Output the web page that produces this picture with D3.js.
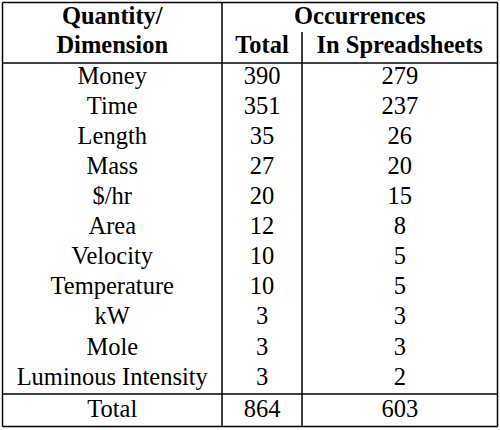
<!DOCTYPE html><html><head><script src="https://cdn.jsdelivr.net/npm/d3@7"></script>
<style>body{margin:0;background:#fff}</style></head><body><svg id="c" width="500" height="430"></svg>
<script>
const quantities=["Money","Time","Length","Mass","$/hr","Area","Velocity","Temperature","kW","Mole","Luminous Intensity"];
const totals=[390,351,35,27,20,12,10,10,3,3,3];
const inSpreadsheets=[279,237,26,20,15,8,5,5,3,3,2];
const totalLabel="Total", totalSum=864, spreadSum=603;
const svg=d3.select("#c");
const L=2.5,R=497.5,T=2.5,B=426.5,c1=222,c2=302,hLine=63,tLine=394;
const y=d3.scaleLinear().domain([0,10]).range([78,379]);
const font="Liberation Serif, Times New Roman, serif";
const line=(x1,y1,x2,y2)=>svg.append("line").attr("x1",x1).attr("y1",y1).attr("x2",x2).attr("y2",y2).attr("stroke","#000").attr("stroke-width",1.5);
line(L,T,R,T);line(L,B,R,B);line(L,T,L,B);line(R,T,R,B);
line(c1,T,c1,B);line(c2,32,c2,B);line(L,hLine,R,hLine);line(L,tLine,R,tLine);
const txt=(x,yy,s,bold)=>svg.append("text").attr("x",x).attr("y",yy).attr("text-anchor","middle").attr("dominant-baseline","middle")
 .attr("font-family",font).attr("font-size",bold?24.5:24.5).attr("font-weight",bold?"bold":"normal").attr("fill","#000").text(s);
const x0=(L+c1)/2,x1=(c1+c2)/2,x2=(c2+R)/2;
txt(x0,18,"Quantity/",1);txt(x0,47,"Dimension",1);txt((c1+R)/2,18,"Occurrences",1);
txt(x1,47,"Total",1);txt(x2,47,"In Spreadsheets",1);
quantities.forEach((q,i)=>{txt(x0,y(i),q);txt(x1,y(i),totals[i]);txt(x2,y(i),inSpreadsheets[i]);});
txt(x0,411,totalLabel);txt(x1,411,totalSum);txt(x2,411,spreadSum);
</script></body></html>
